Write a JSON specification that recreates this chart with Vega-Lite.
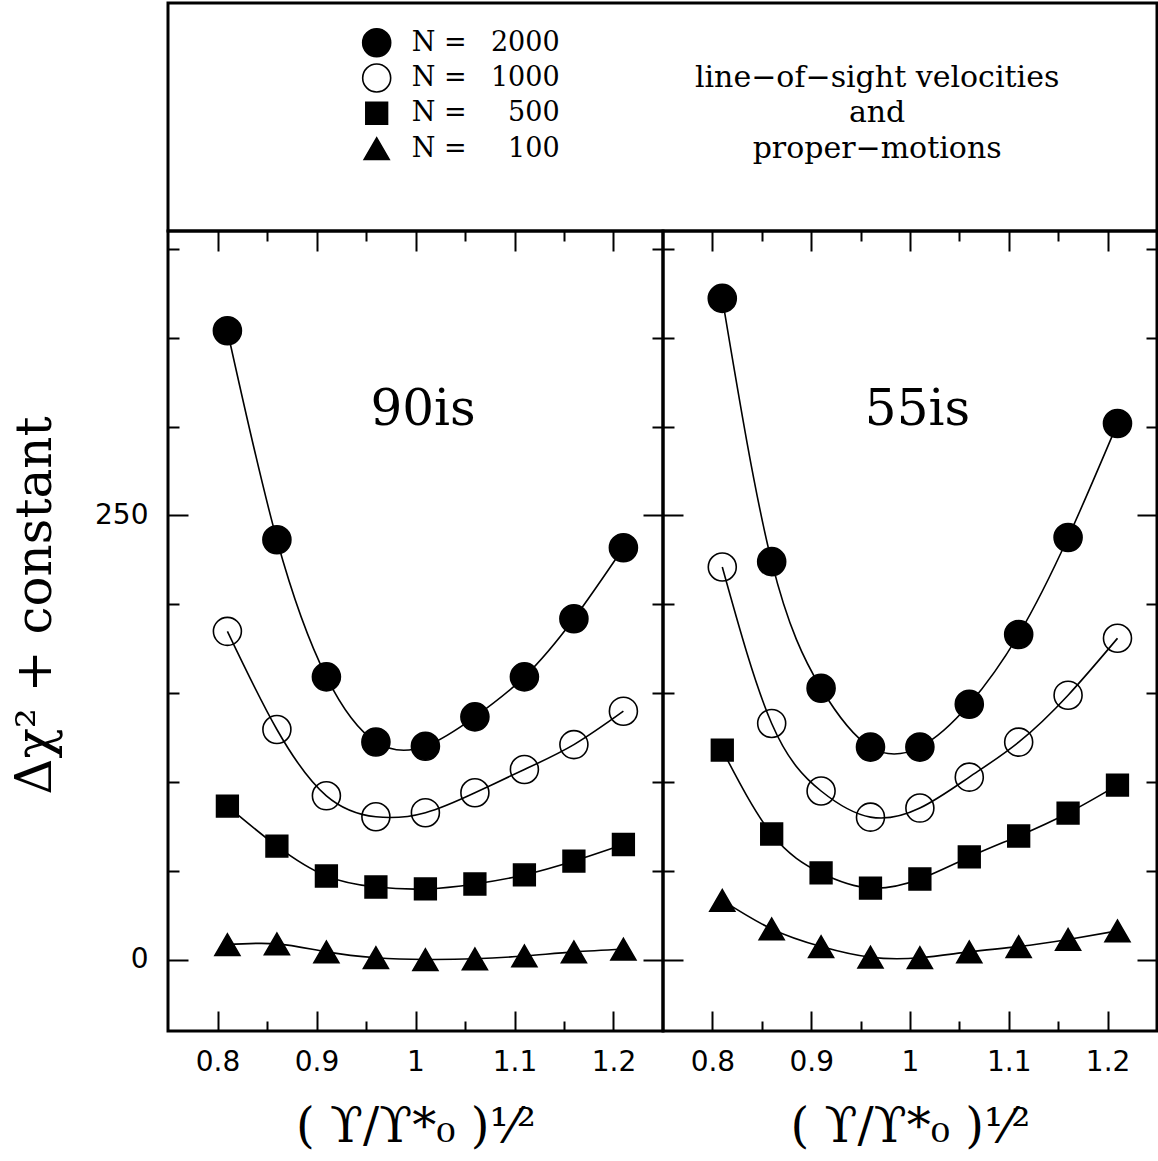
{
  "$schema": "https://vega.github.io/schema/vega-lite/v6.json",
  "background": "white",
  "padding": {"left": 8, "top": 1, "right": 0, "bottom": 0},
  "config": {
    "view": {"stroke": "black", "strokeWidth": 3},
    "axis": {"grid": false, "domain": false, "tickColor": "black", "tickWidth": 2, "labelColor": "black", "titleColor": "black", "labelFont": "DejaVu Sans", "labelFontSize": 28, "titleFont": "DejaVu Serif", "titleFontWeight": "normal", "titleFontSize": 48, "labelFlush": false, "labelOverlap": false}
  },
  "datasets": {
    "pts": [
      {"panel": "90is", "N": "2000", "x": 0.81, "y": 353.9}, {"panel": "90is", "N": "2000", "x": 0.86, "y": 236.3}, {"panel": "90is", "N": "2000", "x": 0.91, "y": 159.2}, {"panel": "90is", "N": "2000", "x": 0.96, "y": 122.6}, {"panel": "90is", "N": "2000", "x": 1.01, "y": 120.2}, {"panel": "90is", "N": "2000", "x": 1.06, "y": 136.7}, {"panel": "90is", "N": "2000", "x": 1.11, "y": 159.2}, {"panel": "90is", "N": "2000", "x": 1.16, "y": 191.9}, {"panel": "90is", "N": "2000", "x": 1.21, "y": 231.8},
      {"panel": "90is", "N": "1000", "x": 0.81, "y": 184.8}, {"panel": "90is", "N": "1000", "x": 0.86, "y": 129.6}, {"panel": "90is", "N": "1000", "x": 0.91, "y": 92.3}, {"panel": "90is", "N": "1000", "x": 0.96, "y": 80.5}, {"panel": "90is", "N": "1000", "x": 1.01, "y": 82.8}, {"panel": "90is", "N": "1000", "x": 1.06, "y": 94.0}, {"panel": "90is", "N": "1000", "x": 1.11, "y": 107.1}, {"panel": "90is", "N": "1000", "x": 1.16, "y": 121.1}, {"panel": "90is", "N": "1000", "x": 1.21, "y": 139.9},
      {"panel": "90is", "N": "500", "x": 0.81, "y": 86.5}, {"panel": "90is", "N": "500", "x": 0.86, "y": 64.0}, {"panel": "90is", "N": "500", "x": 0.91, "y": 47.2}, {"panel": "90is", "N": "500", "x": 0.96, "y": 41.0}, {"panel": "90is", "N": "500", "x": 1.01, "y": 39.9}, {"panel": "90is", "N": "500", "x": 1.06, "y": 42.7}, {"panel": "90is", "N": "500", "x": 1.11, "y": 47.8}, {"panel": "90is", "N": "500", "x": 1.16, "y": 55.6}, {"panel": "90is", "N": "500", "x": 1.21, "y": 64.9},
      {"panel": "90is", "N": "100", "x": 0.81, "y": 8.6}, {"panel": "90is", "N": "100", "x": 0.86, "y": 9.0}, {"panel": "90is", "N": "100", "x": 0.91, "y": 4.5}, {"panel": "90is", "N": "100", "x": 0.96, "y": 1.2}, {"panel": "90is", "N": "100", "x": 1.01, "y": 0.2}, {"panel": "90is", "N": "100", "x": 1.06, "y": 0.6}, {"panel": "90is", "N": "100", "x": 1.11, "y": 2.2}, {"panel": "90is", "N": "100", "x": 1.16, "y": 4.5}, {"panel": "90is", "N": "100", "x": 1.21, "y": 6.0},
      {"panel": "55is", "N": "2000", "x": 0.81, "y": 372.1}, {"panel": "55is", "N": "2000", "x": 0.86, "y": 224.0}, {"panel": "55is", "N": "2000", "x": 0.91, "y": 152.8}, {"panel": "55is", "N": "2000", "x": 0.96, "y": 119.7}, {"panel": "55is", "N": "2000", "x": 1.01, "y": 119.7}, {"panel": "55is", "N": "2000", "x": 1.06, "y": 143.8}, {"panel": "55is", "N": "2000", "x": 1.11, "y": 183.0}, {"panel": "55is", "N": "2000", "x": 1.16, "y": 237.6}, {"panel": "55is", "N": "2000", "x": 1.21, "y": 301.7},
      {"panel": "55is", "N": "1000", "x": 0.81, "y": 221.0}, {"panel": "55is", "N": "1000", "x": 0.86, "y": 133.0}, {"panel": "55is", "N": "1000", "x": 0.91, "y": 95.0}, {"panel": "55is", "N": "1000", "x": 0.96, "y": 80.3}, {"panel": "55is", "N": "1000", "x": 1.01, "y": 85.4}, {"panel": "55is", "N": "1000", "x": 1.06, "y": 102.8}, {"panel": "55is", "N": "1000", "x": 1.11, "y": 122.5}, {"panel": "55is", "N": "1000", "x": 1.16, "y": 148.9}, {"panel": "55is", "N": "1000", "x": 1.21, "y": 180.9},
      {"panel": "55is", "N": "500", "x": 0.81, "y": 118.0}, {"panel": "55is", "N": "500", "x": 0.86, "y": 70.8}, {"panel": "55is", "N": "500", "x": 0.91, "y": 48.9}, {"panel": "55is", "N": "500", "x": 0.96, "y": 40.4}, {"panel": "55is", "N": "500", "x": 1.01, "y": 45.5}, {"panel": "55is", "N": "500", "x": 1.06, "y": 57.9}, {"panel": "55is", "N": "500", "x": 1.11, "y": 69.7}, {"panel": "55is", "N": "500", "x": 1.16, "y": 82.6}, {"panel": "55is", "N": "500", "x": 1.21, "y": 98.3},
      {"panel": "55is", "N": "100", "x": 0.81, "y": 33.5}, {"panel": "55is", "N": "100", "x": 0.86, "y": 17.4}, {"panel": "55is", "N": "100", "x": 0.91, "y": 7.5}, {"panel": "55is", "N": "100", "x": 0.96, "y": 1.5}, {"panel": "55is", "N": "100", "x": 1.01, "y": 1.2}, {"panel": "55is", "N": "100", "x": 1.06, "y": 4.5}, {"panel": "55is", "N": "100", "x": 1.11, "y": 7.5}, {"panel": "55is", "N": "100", "x": 1.16, "y": 11.5}, {"panel": "55is", "N": "100", "x": 1.21, "y": 16.3}
    ],
    "legend": [
      {"N": "2000", "desc": ""},
      {"N": "1000", "desc": "line\u2212of\u2212sight velocities"},
      {"N": "500", "desc": "and"},
      {"N": "100", "desc": "proper\u2212motions"}
    ]
  },
  "spacing": 0,
  "bounds": "flush",
  "vconcat": [
    {
      "width": 989,
      "height": 228,
      "data": {"name": "legend"},
      "encoding": {
        "y": {"field": "N", "type": "ordinal", "scale": {"type": "point", "domain": ["_a", "2000", "1000", "500", "100", "_b", "_c"], "padding": 0.23, "align": 0.27}, "axis": null}
      },
      "layer": [
        {
          "mark": {"type": "point", "size": 784, "stroke": "black", "strokeWidth": 1.6, "opacity": 1},
          "encoding": {
            "x": {"datum": 0.211, "type": "quantitative", "scale": {"domain": [0, 1], "nice": false, "zero": false}, "axis": null},
            "shape": {"field": "N", "type": "nominal", "scale": {"domain": ["2000", "1000", "500", "100"], "range": ["circle", "circle", "M-0.775,-0.775H0.775V0.775H-0.775Z", "M-0.893,0.771L0.893,0.771L0,-0.771Z"]}, "legend": null},
            "fill": {"field": "N", "type": "nominal", "scale": {"domain": ["2000", "1000", "500", "100"], "range": ["black", "transparent", "black", "black"]}, "legend": null}
          }
        },
        {
          "mark": {"type": "text", "align": "left", "baseline": "middle", "font": "DejaVu Serif", "fontSize": 27, "color": "black"},
          "encoding": {
            "x": {"datum": 0.2464, "type": "quantitative", "axis": null},
            "text": {"value": "N ="}
          }
        },
        {
          "mark": {"type": "text", "align": "right", "baseline": "middle", "font": "DejaVu Serif", "fontSize": 27, "color": "black"},
          "encoding": {
            "x": {"datum": 0.396, "type": "quantitative", "axis": null},
            "text": {"field": "N"}
          }
        },
        {
          "mark": {"type": "text", "align": "center", "baseline": "middle", "font": "DejaVu Serif", "fontSize": 30, "letterSpacing": 0.8, "color": "black"},
          "encoding": {
            "x": {"datum": 0.717, "type": "quantitative", "axis": null},
            "text": {"field": "desc"}
          }
        }
      ]
    },
    {
      "spacing": 0,
      "bounds": "flush",
      "hconcat": [
        {
          "width": 495,
          "height": 800,
          "data": {"name": "pts"},
          "transform": [{"filter": "datum.panel === '90is'"}],
          "layer": [
            {
              "mark": {"type": "line", "color": "black", "strokeWidth": 1.6, "interpolate": "natural"},
              "encoding": {
                "x": {"field": "x", "type": "quantitative", "scale": {"domain": [0.75, 1.25], "nice": false, "zero": false},
                  "axis": {"orient": "bottom", "values": [0.8, 0.85, 0.9, 0.95, 1.0, 1.05, 1.1, 1.15, 1.2],
                    "tickSize": {"condition": {"test": "abs(datum.value*10 - round(datum.value*10)) < 0.001", "value": -20}, "value": -10},
                    "labelPadding": {"condition": {"test": "abs(datum.value*10 - round(datum.value*10)) < 0.001", "value": 37}, "value": 27},
                    "labelExpr": "abs(datum.value*10 - round(datum.value*10)) < 0.001 ? format(datum.value, '.1~f') : ''",
                    "title": "( \u03d2/\u03d2*\u2080 )\u00b9\u2044\u00b2", "titlePadding": 27}},
                "y": {"field": "y", "type": "quantitative", "scale": {"domain": [-40, 410], "nice": false, "zero": false},
                  "axis": {"orient": "left", "values": [0, 50, 100, 150, 200, 250, 300, 350, 400],
                    "tickSize": {"condition": {"test": "datum.value % 250 === 0", "value": -20}, "value": -11},
                    "labelPadding": {"condition": {"test": "datum.value % 250 === 0", "value": 40}, "value": 31},
                    "labelExpr": "datum.value % 250 === 0 ? datum.label : ''",
                    "title": "\u0394\u03c7\u00b2 + constant", "titleFontSize": 50, "titleX": -118, "titleY": 374, "titleAngle": 270, "titleBaseline": "alphabetic", "titleAlign": "center"}},
                "detail": {"field": "N"}
              }
            },
            {
              "mark": {"type": "point", "size": 784, "stroke": "black", "strokeWidth": 1.6, "opacity": 1},
              "encoding": {
                "x": {"field": "x", "type": "quantitative",
                  "axis": {"orient": "top", "values": [0.8, 0.85, 0.9, 0.95, 1.0, 1.05, 1.1, 1.15, 1.2], "labels": false, "title": null,
                    "tickSize": {"condition": {"test": "abs(datum.value*10 - round(datum.value*10)) < 0.001", "value": -20}, "value": -10}}},
                "y": {"field": "y", "type": "quantitative",
                  "axis": {"orient": "right", "values": [0, 50, 100, 150, 200, 250, 300, 350, 400], "labels": false, "title": null,
                    "tickSize": {"condition": {"test": "datum.value % 250 === 0", "value": -20}, "value": -11}}},
                "shape": {"field": "N", "type": "nominal", "scale": {"domain": ["2000", "1000", "500", "100"], "range": ["circle", "circle", "M-0.775,-0.775H0.775V0.775H-0.775Z", "M-0.893,0.771L0.893,0.771L0,-0.771Z"]}, "legend": null},
                "fill": {"field": "N", "type": "nominal", "scale": {"domain": ["2000", "1000", "500", "100"], "range": ["black", "transparent", "black", "black"]}, "legend": null}
              }
            },
            {
              "data": {"values": [{"label": "90is"}]},
              "mark": {"type": "text", "font": "DejaVu Serif", "fontSize": 50, "letterSpacing": 5, "baseline": "middle", "align": "center", "color": "black"},
              "encoding": {
                "x": {"datum": 1.0076, "type": "quantitative", "axis": null},
                "y": {"datum": 309.2, "type": "quantitative", "axis": null},
                "text": {"field": "label"}
              }
            }
          ],
          "resolve": {"axis": {"x": "independent", "y": "independent"}}
        },
        {
          "width": 494,
          "height": 800,
          "data": {"name": "pts"},
          "transform": [{"filter": "datum.panel === '55is'"}],
          "layer": [
            {
              "mark": {"type": "line", "color": "black", "strokeWidth": 1.6, "interpolate": "natural"},
              "encoding": {
                "x": {"field": "x", "type": "quantitative", "scale": {"domain": [0.75, 1.25], "nice": false, "zero": false},
                  "axis": {"orient": "bottom", "values": [0.8, 0.85, 0.9, 0.95, 1.0, 1.05, 1.1, 1.15, 1.2],
                    "tickSize": {"condition": {"test": "abs(datum.value*10 - round(datum.value*10)) < 0.001", "value": -20}, "value": -10},
                    "labelPadding": {"condition": {"test": "abs(datum.value*10 - round(datum.value*10)) < 0.001", "value": 37}, "value": 27},
                    "labelExpr": "abs(datum.value*10 - round(datum.value*10)) < 0.001 ? format(datum.value, '.1~f') : ''",
                    "title": "( \u03d2/\u03d2*\u2080 )\u00b9\u2044\u00b2", "titlePadding": 27}},
                "y": {"field": "y", "type": "quantitative", "scale": {"domain": [-40, 410], "nice": false, "zero": false},
                  "axis": {"orient": "left", "values": [0, 50, 100, 150, 200, 250, 300, 350, 400], "labels": false, "title": null,
                    "tickSize": {"condition": {"test": "datum.value % 250 === 0", "value": -20}, "value": -11}}},
                "detail": {"field": "N"}
              }
            },
            {
              "mark": {"type": "point", "size": 784, "stroke": "black", "strokeWidth": 1.6, "opacity": 1},
              "encoding": {
                "x": {"field": "x", "type": "quantitative",
                  "axis": {"orient": "top", "values": [0.8, 0.85, 0.9, 0.95, 1.0, 1.05, 1.1, 1.15, 1.2], "labels": false, "title": null,
                    "tickSize": {"condition": {"test": "abs(datum.value*10 - round(datum.value*10)) < 0.001", "value": -20}, "value": -10}}},
                "y": {"field": "y", "type": "quantitative",
                  "axis": {"orient": "right", "values": [0, 50, 100, 150, 200, 250, 300, 350, 400], "labels": false, "title": null,
                    "tickSize": {"condition": {"test": "datum.value % 250 === 0", "value": -20}, "value": -11}}},
                "shape": {"field": "N", "type": "nominal", "scale": {"domain": ["2000", "1000", "500", "100"], "range": ["circle", "circle", "M-0.775,-0.775H0.775V0.775H-0.775Z", "M-0.893,0.771L0.893,0.771L0,-0.771Z"]}, "legend": null},
                "fill": {"field": "N", "type": "nominal", "scale": {"domain": ["2000", "1000", "500", "100"], "range": ["black", "transparent", "black", "black"]}, "legend": null}
              }
            },
            {
              "data": {"values": [{"label": "55is"}]},
              "mark": {"type": "text", "font": "DejaVu Serif", "fontSize": 50, "letterSpacing": 5, "baseline": "middle", "align": "center", "color": "black"},
              "encoding": {
                "x": {"datum": 1.0076, "type": "quantitative", "axis": null},
                "y": {"datum": 309.2, "type": "quantitative", "axis": null},
                "text": {"field": "label"}
              }
            }
          ],
          "resolve": {"axis": {"x": "independent", "y": "independent"}}
        }
      ]
    }
  ]
}
